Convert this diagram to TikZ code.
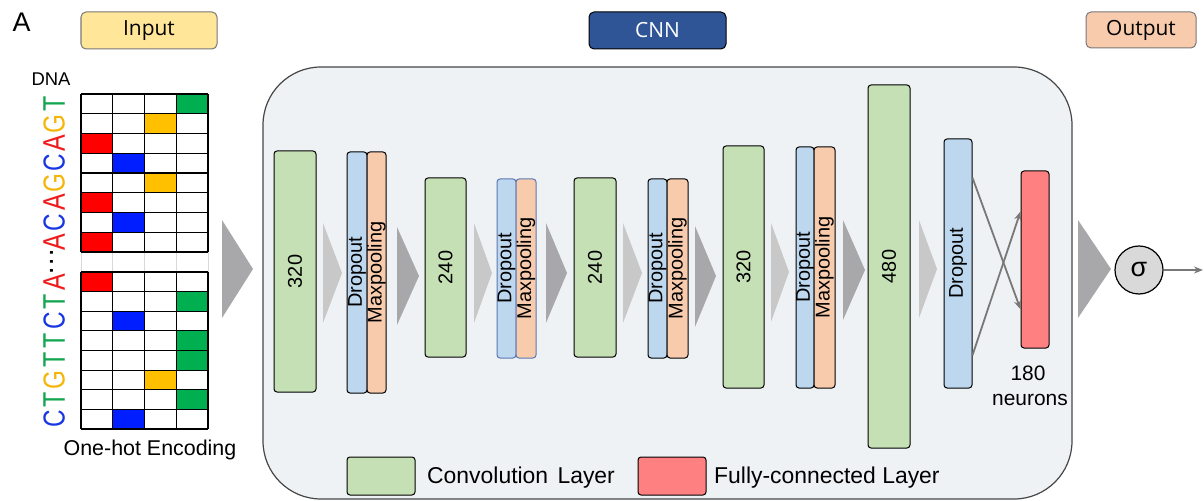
\documentclass[tikz,border=0pt]{standalone}
\usepackage{fontspec}
\setmainfont{Liberation Sans}
\newfontfamily\hdrfont{Open Sans}
\usetikzlibrary{calc,arrows.meta}
\definecolor{convg}{RGB}{197,224,180}
\definecolor{dropb}{RGB}{189,215,238}
\definecolor{maxo}{RGB}{248,203,173}
\definecolor{fcred}{RGB}{255,128,128}
\definecolor{cnnbg}{RGB}{239,242,245}
\definecolor{inyel}{RGB}{255,230,153}
\definecolor{cnnblue}{RGB}{47,85,151}
\definecolor{trilight}{RGB}{200,200,200}
\definecolor{tridark}{RGB}{168,168,170}
\definecolor{sigfill}{RGB}{217,217,217}
\definecolor{gray50}{RGB}{120,120,120}
\definecolor{boxgray}{RGB}{120,120,120}
\definecolor{cellA}{RGB}{255,0,0}
\definecolor{cellC}{RGB}{0,30,255}
\definecolor{cellG}{RGB}{255,192,0}
\definecolor{cellT}{RGB}{0,176,80}
\definecolor{cA}{RGB}{238,28,28}
\definecolor{cC}{RGB}{25,55,225}
\definecolor{cG}{RGB}{245,182,10}
\definecolor{cT}{RGB}{20,165,80}
\newcommand{\dnachar}[1]{\resizebox{21.5bp}{!}{\rotatebox{90}{\scalebox{0.8}[1]{#1}}}}
\begin{document}
\begin{tikzpicture}[x=1bp,y=-1bp,
  layer/.style={draw=black, line width=1bp, rounded corners=3bp, inner sep=0pt, font=\fontsize{20}{24}\selectfont},
  convbox/.style={layer, fill=convg},
  dropbox/.style={layer, fill=dropb},
  maxbox/.style={layer, fill=maxo},
  fcbox/.style={layer, fill=fcred},
  hdrbox/.style={rounded corners=5bp, line width=1bp, inner sep=0pt, font=\hdrfont\fontsize{21}{24}\selectfont},
  tril/.style={fill=trilight},
  trid/.style={fill=tridark},
  dnaletter/.style={anchor=east, inner sep=0pt, font=\fontsize{30}{32}\selectfont},
  conn/.style={draw=gray50, line width=1.8bp, -{Stealth[length=9bp,width=7bp]}},
  plain/.style={inner sep=0pt},
]
\useasboundingbox (0,0) rectangle (1204,501);

% panel label
\node[plain, font=\fontsize{27}{29}\selectfont] (lblA) at (21.5,22.5) {A};

% header boxes
\node[hdrbox, draw=boxgray, fill=inyel, minimum width=136bp, minimum height=37bp] (hin) at (149,30.5) {Input};
\node[hdrbox, draw=black, fill=cnnblue, text=white, minimum width=137bp, minimum height=37bp] (hcnn) at (657.5,30.5) {CNN};
\node[hdrbox, draw=boxgray, fill=maxo, minimum width=110bp, minimum height=36bp] (hout) at (1141,30) {Output};

% input encoding
\node[plain, font=\fontsize{18.5}{20}\selectfont] (dna) at (51,79.5) {DNA};
\foreach \r/\c/\k in {1/4/T,2/3/G,3/1/A,4/2/C,5/3/G,6/1/A,7/2/C,8/1/A}
  \fill[cell\k] ({81+31.75*(\c-1)},{94+19.75*(\r-1)}) rectangle ++(31.75,19.75);
\foreach \r/\c/\k in {1/1/A,2/4/T,3/2/C,4/4/T,5/4/T,6/3/G,7/4/T,8/2/C}
  \fill[cell\k] ({81+31.75*(\c-1)},{272+19.625*(\r-1)}) rectangle ++(31.75,19.625);
\foreach \i in {0,...,4} {
  \draw[line width=1.1bp] ({81+31.75*\i},94) -- ({81+31.75*\i},252);
  \draw[line width=1.1bp] ({81+31.75*\i},272) -- ({81+31.75*\i},429);
  \draw[line width=1bp, black!15] ({81+31.75*\i},252) -- ({81+31.75*\i},272);
}
\foreach \j in {0,...,8} {
  \draw[line width=1.1bp] (81,{94+19.75*\j}) -- (208,{94+19.75*\j});
  \draw[line width=1.1bp] (81,{272+19.625*\j}) -- (208,{272+19.625*\j});
}
\foreach \l [count=\i] in {T,G,A,C,G,A,C,A}
  \node[dnaletter, text=c\l] (top\i) at (65,{94+19.75*(\i-0.5)}) {\dnachar{\l}};
\node[dnaletter, font=\fontsize{28}{30}\selectfont] (dots) at (60,262) {\rotatebox{90}{···}};
\foreach \l [count=\i] in {A,T,C,T,T,G,T,C}
  \node[dnaletter, text=c\l] (bot\i) at (65,{272+19.625*(\i-0.5)}) {\dnachar{\l}};
\node[plain, font=\fontsize{21.5}{24}\selectfont] (onehot) at (150,450) {One-hot Encoding};

% input arrow
\fill[tridark] (222,220) -- (253,269) -- (222,318) -- cycle;

% CNN container
\node[draw={rgb,255:red,70;green,70;blue,70}, line width=1.2bp, fill=cnnbg, rounded corners=58bp, minimum width=809bp, minimum height=432bp, inner sep=0pt] (cnn) at (667.5,283) {};

% layers
\node[convbox, minimum width=42bp, minimum height=241bp] (c1) at (295,271.5) {\rotatebox{90}{320}};
\node[dropbox, minimum width=20bp, minimum height=241bp] (d1) at (357,272.5) {\rotatebox{90}{Dropout}};
\node[maxbox, minimum width=19bp, minimum height=241bp] (m1) at (376.5,272.5) {\rotatebox{90}{Maxpooling}};
\node[convbox, minimum width=41bp, minimum height=179bp] (c2) at (445.5,267.5) {\rotatebox{90}{240}};
\node[dropbox, draw={rgb,255:red,90;green,120;blue,180}, minimum width=19bp, minimum height=179bp] (d2) at (506.5,268.5) {\rotatebox{90}{Dropout}};
\node[maxbox, draw={rgb,255:red,90;green,120;blue,180}, minimum width=20bp, minimum height=179bp] (m2) at (526,268.5) {\rotatebox{90}{Maxpooling}};
\node[convbox, minimum width=42bp, minimum height=179bp] (c3) at (595,267.5) {\rotatebox{90}{240}};
\node[dropbox, minimum width=19bp, minimum height=179bp] (d3) at (657.5,268.5) {\rotatebox{90}{Dropout}};
\node[maxbox, minimum width=21bp, minimum height=179bp] (m3) at (677.5,268.5) {\rotatebox{90}{Maxpooling}};
\node[convbox, minimum width=41bp, minimum height=242bp] (c4) at (743.5,267) {\rotatebox{90}{320}};
\node[dropbox, minimum width=18bp, minimum height=241bp] (d4) at (805,267.5) {\rotatebox{90}{Dropout}};
\node[maxbox, minimum width=21bp, minimum height=241bp] (m4) at (824.5,267.5) {\rotatebox{90}{Maxpooling}};
\node[convbox, minimum width=42bp, minimum height=363bp] (c5) at (889,266.5) {\rotatebox{90}{480}};
\node[dropbox, minimum width=28bp, minimum height=249bp] (d5) at (958,263.5) {\rotatebox{90}{Dropout}};
\node[fcbox, minimum width=28bp, minimum height=177bp] (fc) at (1035,259.5) {};

% arrows between layers
\fill[tril] (323,223) -- (342,273) -- (323,323) -- cycle;
\fill[trid] (397,227) -- (419,276) -- (397,325) -- cycle;
\fill[tril] (474,223) -- (492,273) -- (474,323) -- cycle;
\fill[trid] (546,223) -- (567,273) -- (546,323) -- cycle;
\fill[tril] (623,223) -- (642,273) -- (623,323) -- cycle;
\fill[trid] (695,226) -- (716,276) -- (695,327) -- cycle;
\fill[tril] (771,223) -- (789,272) -- (771,322) -- cycle;
\fill[trid] (843,220) -- (865,270) -- (843,320) -- cycle;
\fill[tril] (919,220) -- (937,269) -- (919,318) -- cycle;

% fully-connected links
\draw[conn] ($(d5.north east)!0.157!(d5.south east)$) -- ($(fc.north west)!0.78!(fc.south west)$);
\draw[conn] ($(d5.north east)!0.867!(d5.south east)$) -- ($(fc.north west)!0.23!(fc.south west)$);
\node[plain, font=\fontsize{21}{24}\selectfont] (n180) at (1028,373) {180};
\node[plain, font=\fontsize{21}{24}\selectfont] (nneur) at (1030,400) {neurons};

% output
\fill[tridark] (1078,220) -- (1111,269) -- (1078,318) -- cycle;
\node[circle, draw=black, fill=sigfill, line width=1.2bp, minimum size=48bp, inner sep=0pt, font=\fontsize{27}{29}\selectfont] (sig) at (1139,270) {σ};
\coordinate (outend) at (1203,270);
\draw[conn, line width=1.5bp] (sig.east) -- (outend);

% legend
\node[layer, fill=convg, minimum width=68bp, minimum height=38bp] (legc) at (381,476) {};
\node[plain, anchor=west, font=\fontsize{23}{26}\selectfont] (legct) at (427,478) {Convolution \hspace{3bp}Layer};
\node[layer, fill=fcred, minimum width=68bp, minimum height=38bp] (legf) at (672,476) {};
\node[plain, anchor=west, font=\fontsize{23}{26}\selectfont] (legft) at (714,478) {Fully-connected Layer};
\end{tikzpicture}
\end{document}
